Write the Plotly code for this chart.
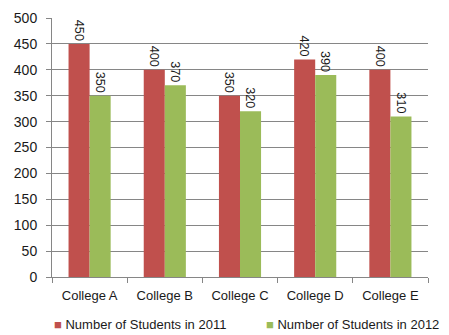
import plotly.graph_objects as go

colleges = ["College A", "College B", "College C", "College D", "College E"]
students_2011 = [450, 400, 350, 420, 400]
students_2012 = [350, 370, 320, 390, 310]
y_ticks = [0, 50, 100, 150, 200, 250, 300, 350, 400, 450, 500]
series_names = ["Number of Students in 2011", "Number of Students in 2012"]
series_colors = ["#C0504D", "#9BBB59"]

font_family = "Liberation Sans, Arial, sans-serif"
text_color = "#1a1a1a"

fig = go.Figure()
for name, values, color in zip(series_names, [students_2011, students_2012], series_colors):
    fig.add_trace(go.Bar(
        x=colleges, y=values, name=name,
        marker=dict(color=color, line=dict(width=0)),
        text=[str(v) for v in values], textposition="outside",
        textangle=90, textfont=dict(size=13, color=text_color, family=font_family),
        cliponaxis=False, showlegend=False,
    ))

# legend drawn as a row of coloured squares with labels beneath the axis
legend_x = [0.0, 0.565]
annotations = []
for name, color, lx in zip(series_names, series_colors, legend_x):
    annotations.append(dict(
        xref="paper", yref="paper", x=lx, y=-0.185, xanchor="left", yanchor="middle",
        showarrow=False,
        text=f"<span style='color:{color}'>■</span> {name}",
        font=dict(size=13, color=text_color, family=font_family),
    ))

fig.update_layout(
    width=449, height=335,
    margin=dict(l=52, r=21, t=18, b=58, autoexpand=False),
    paper_bgcolor="white", plot_bgcolor="white",
    barmode="group", bargap=0.44, bargroupgap=0,
    font=dict(family=font_family, color=text_color, size=13),
    showlegend=False,
    annotations=annotations,
    uniformtext=dict(mode=False),
)
fig.update_xaxes(
    showline=True, linecolor="#868686", linewidth=1,
    ticks="outside", tickcolor="#868686", ticklen=5,
    tickson="boundaries", showgrid=False,
    tickfont=dict(size=13), automargin=False, ticklabelstandoff=6,
)
fig.update_yaxes(
    range=[0, 500], tickvals=y_ticks,
    showline=True, linecolor="#868686", linewidth=1,
    ticks="outside", tickcolor="#868686", ticklen=5,
    showgrid=True, gridcolor="#868686", gridwidth=1,
    tickfont=dict(size=14), zeroline=False, automargin=False, ticklabelstandoff=6,
)

fig.write_html("out.html")
